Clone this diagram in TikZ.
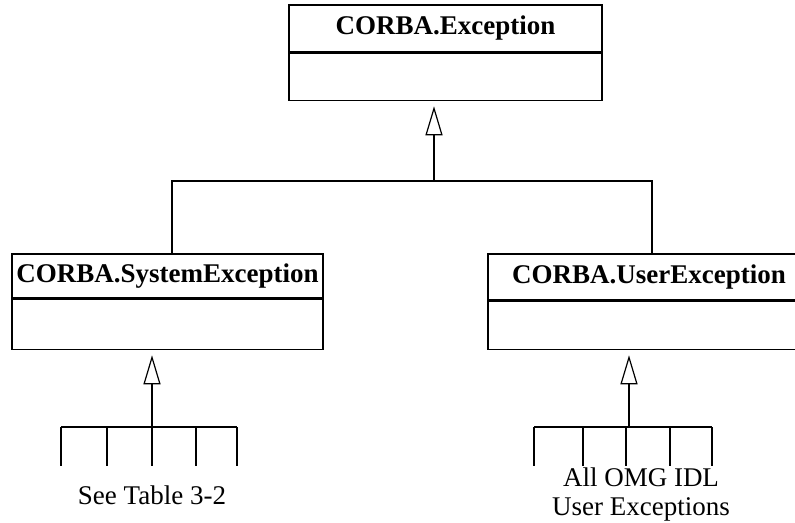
\documentclass[tikz,border=0pt]{standalone}
\usepackage{fontspec}
\setmainfont{Liberation Serif}
\usetikzlibrary{arrows.meta}
\begin{document}
\begin{tikzpicture}[x=1pt,y=-1pt,
  every node/.style={font=\fontsize{27}{31}\selectfont},
  namebox/.style={draw,line width=1.5pt,inner sep=0pt,font=\fontsize{27}{31}\selectfont\bfseries},
  bodybox/.style={draw,line width=1.5pt,inner sep=0pt},
  conn/.style={line width=1.5pt},
  inh/.style={line width=1.5pt,-{Triangle[open,length=29pt,width=17pt,line width=1.2pt]},shorten >=5pt},
  lbl/.style={inner sep=0pt,align=center,font=\fontsize{27}{29}\selectfont}]
\useasboundingbox (0,0) rectangle (795,522);
% classes
\node[namebox,minimum width=313pt,minimum height=47pt] (top) at (445.5,28.5) {CORBA.Exception};
\node[bodybox,minimum width=313pt,minimum height=47pt,anchor=north] (topb) at (top.south) {};
\node[namebox,minimum width=311pt,minimum height=44pt] (sys) at (167.5,276) {CORBA.SystemException};
\node[bodybox,minimum width=311pt,minimum height=50pt,anchor=north] (sysb) at (sys.south) {};
\node[namebox,minimum width=322pt,minimum height=46pt] (usr) at (649,277) {CORBA.UserException};
\node[bodybox,minimum width=322pt,minimum height=48pt,anchor=north] (usrb) at (usr.south) {};
% top hierarchy
\coordinate (j0) at (434,181);
\coordinate (jl) at (172,181);
\coordinate (jr) at (652,181);
\draw[inh] (j0) -- (j0 |- topb.south);
\draw[conn] (jl |- sys.north) -- (jl) -- (jr) -- (jr |- usr.north);
% system exceptions
\coordinate (s0) at (152,427);
\coordinate (s1) at (61,427);
\coordinate (s2) at (107,427);
\coordinate (s4) at (196,427);
\coordinate (s5) at (237,427);
\draw[inh] (s0) -- (s0 |- sysb.south);
\draw[conn] (s1) -- (s5);
\foreach \c in {s1,s2,s0,s4,s5} \draw[conn] (\c) -- ++(0,39);
\node[lbl] (stext) at (152,495) {See Table 3-2};
% user exceptions
\coordinate (u0) at (629,427);
\coordinate (u1) at (534,427);
\coordinate (u2) at (583,427);
\coordinate (u3) at (626,427);
\coordinate (u4) at (670,427);
\coordinate (u5) at (712,427);
\draw[inh] (u0) -- (u0 |- usrb.south);
\draw[conn] (u1) -- (u5);
\foreach \c in {u1,u2,u3,u4,u5} \draw[conn] (\c) -- ++(0,39);
\node[lbl] (utext) at (641,495) {All OMG IDL\\User Exceptions};
\end{tikzpicture}
\end{document}
